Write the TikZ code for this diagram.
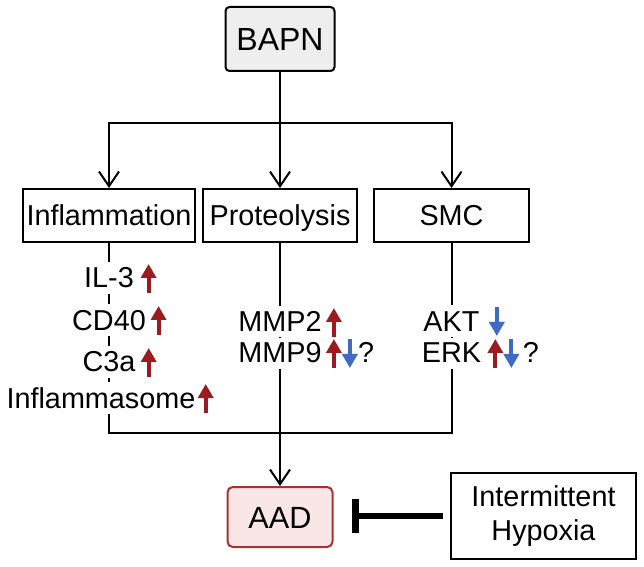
\documentclass[tikz,border=0pt]{standalone}
\usepackage{fontspec}
\setmainfont{Liberation Sans}
\usetikzlibrary{arrows.meta,positioning}

\definecolor{upred}{HTML}{9B1B1E}
\definecolor{dnblue}{HTML}{3F6BC4}
\definecolor{aadline}{HTML}{A83232}
\definecolor{aadfill}{HTML}{F9E7E7}
\definecolor{bapnfill}{HTML}{EEEEEE}

\tikzset{
  box/.style={draw, line width=1.5pt, minimum height=39.75pt, inner sep=0pt},
  onerow/.style={text height=#1, text depth=0pt},
  onerow/.default=15.5pt,
  lbl/.style={inner xsep=0pt, inner ysep=4pt, text height=15.5pt, text depth=0pt},
  link/.style={line width=1.5pt},
  flow/.style={line width=1.5pt, -{Straight Barb[length=11pt,width=15pt]}},
  uparr/.style={upred, line width=3pt, -{Triangle[length=10.5pt,width=11.25pt]}},
  dnarr/.style={dnblue, line width=3pt, -{Triangle[length=10.5pt,width=11.25pt]}},
  inhib/.style={line width=4.5pt, -{Bar[width=26pt,line width=5.25pt]}},
}

% small up / down marks next to a label
\newcommand{\upmark}[2]{\draw[uparr] ([shift={(#2,5)}]#1.base east) -- ++(0,-29);}
\newcommand{\dnmark}[2]{\draw[dnarr] ([shift={(#2,-24)}]#1.base east) -- ++(0,29);}

\begin{document}
\begin{tikzpicture}[x=0.75pt, y=-0.75pt, font=\fontsize{21.6}{26}\selectfont]
	\useasboundingbox (0,0) rectangle (644,567);

	%The drug
	\node[box, onerow=17.2pt, fill=bapnfill, rounded corners=3pt, minimum width=81.75pt, minimum height=48pt, font=\fontsize{24}{28}\selectfont] (bapn) at (280,39) {BAPN};

	%The three branches
	\node[box, onerow, minimum width=129pt] (infl) at (109,215.5) {Inflammation};
	\node[box, onerow, minimum width=115.5pt] (prot) at (280,215.5) {Proteolysis};
	\node[box, onerow, minimum width=116.25pt] (smc) at (451.5,215.5) {SMC};

	\coordinate (split) at (280,123);
	\draw[link] (bapn) -- (split);
	\draw[flow] (split) -| (infl);
	\draw[flow] (split) -- (prot);
	\draw[flow] (split) -| (smc);

	%Inflammation column
	\node[lbl, anchor=base] (il3) at (109,288) {IL-3};
	\node[lbl, anchor=base] (cd40) at (109,330) {CD40};
	\node[lbl, anchor=base] (c3a) at (109,372) {C3a};
	\node[lbl, anchor=base] (inflsome) at (101,408) {Inflammasome};

	%Proteolysis column
	\node[lbl, anchor=base] (mmp2) at (280,332) {MMP2};
	\node[lbl, anchor=base] (mmp9) at (280,363) {MMP9};
	\node[lbl, anchor=base west] (mmp9q) at ([xshift=27pt]mmp9.base east) {?};

	%SMC column
	\node[lbl, anchor=base] (akt) at (451.5,331) {AKT};
	\node[lbl, anchor=base] (erk) at (451.5,363) {ERK};
	\node[lbl, anchor=base west] (erkq) at ([xshift=31pt]erk.base east) {?};

	\upmark{il3}{14.5}
	\upmark{cd40}{12.5}
	\upmark{c3a}{13}
	\upmark{inflsome}{10}
	\upmark{mmp2}{12}
	\upmark{mmp9}{12}
	\dnmark{mmp9}{28}
	\dnmark{akt}{17}
	\upmark{erk}{14}
	\dnmark{erk}{30}

	%The outcome
	\node[box, onerow=16.5pt, draw=aadline, fill=aadfill, rounded corners=4pt, minimum width=78.75pt, minimum height=45pt, font=\fontsize{23}{27}\selectfont] (aad) at (280,517) {AAD};
	\node[box, minimum width=138.75pt, minimum height=64.5pt, align=center] (hyp) at (543.5,516) {Intermittent\\Hypoxia};

	\coordinate (join) at (280,433);
	\draw[link] (infl) -- (il3) (il3) -- (cd40) (cd40) -- (c3a) (c3a) -- (c3a |- inflsome.north);
	\draw[link] (c3a |- inflsome.south) |- (join);
	\draw[link] (prot) -- (mmp2) (mmp2) -- (mmp9);
	\draw[flow] (mmp9) -- (aad);
	\draw[link] (smc) -- (akt) (akt) -- (erk);
	\draw[link] (erk) |- (join);

	\draw[inhib, shorten <=5.25pt, shorten >=14pt] (hyp.west) -- (aad.east |- hyp.west);

\end{tikzpicture}
\end{document}
